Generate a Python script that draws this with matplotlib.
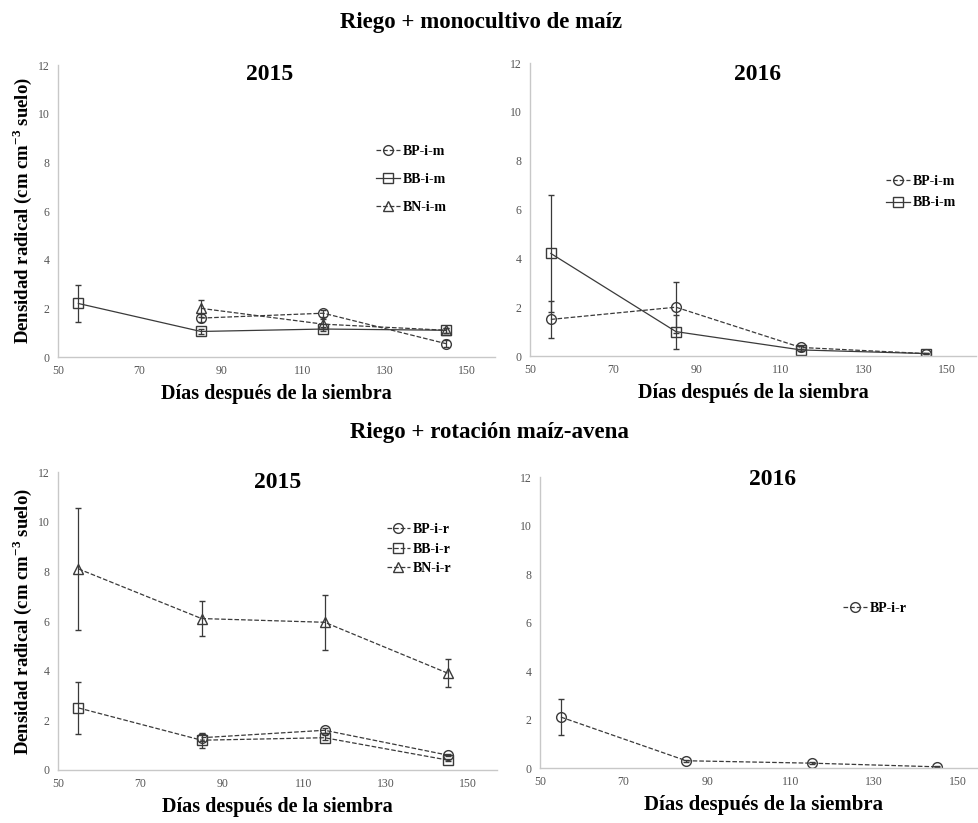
import numpy as np
import matplotlib
matplotlib.use("Agg")
import matplotlib.pyplot as plt

plt.rcParams['font.family'] = ['Liberation Serif', 'DejaVu Serif']
plt.rcParams['mathtext.fontset'] = 'custom'
plt.rcParams['mathtext.rm'] = 'Liberation Serif'
plt.rcParams['mathtext.bf'] = 'Liberation Serif:bold'

# Dias despues de la siembra
dias = [55, 85, 115, 145]

# Riego + monocultivo 2015
bp_m15 = [np.nan, 1.6, 1.8, 0.55]
bp_m15_err = [0, 0.15, 0.15, 0.15]
bb_m15 = [2.2, 1.05, 1.15, 1.1]
bb_m15_err = [0.75, 0.1, 0.1, 0.1]
bn_m15 = [np.nan, 2.0, 1.35, 1.1]
bn_m15_err = [0, 0.35, 0.2, 0.1]

# Riego + monocultivo 2016
bp_m16 = [1.5, 2.0, 0.35, 0.1]
bp_m16_err = [0.75, 1.05, 0.05, 0.03]
bb_m16 = [4.2, 1.0, 0.25, 0.1]
bb_m16_err = [2.4, 0.7, 0.05, 0.03]

# Riego + rotacion 2015
bp_r15 = [np.nan, 1.3, 1.6, 0.6]
bp_r15_err = [0, 0.15, 0.1, 0.05]
bb_r15 = [2.5, 1.2, 1.3, 0.4]
bb_r15_err = [1.03, 0.3, 0.1, 0.05]
bn_r15 = [8.1, 6.1, 5.95, 3.9]
bn_r15_err = [2.45, 0.72, 1.1, 0.57]

# Riego + rotacion 2016
bp_r16 = [2.1, 0.3, 0.2, 0.05]
bp_r16_err = [0.75, 0.05, 0.05, 0.02]

LC = '#3a3a3a'
ylab = 'Densidad radical (cm cm$^{\\mathregular{-3}}$ suelo)'
xlab = 'Días después de la siembra'

fig = plt.figure(figsize=(9.79, 8.23), dpi=100)

def setup(ax, title, tx, ty, xl_size=14.5):
    ax.set_xlim(50, 157)
    ax.set_ylim(0, 12)
    ax.set_xticks([50, 70, 90, 110, 130, 150])
    ax.set_yticks([0, 2, 4, 6, 8, 10, 12])
    for s in ['top', 'right']:
        ax.spines[s].set_visible(False)
    for s in ['left', 'bottom']:
        ax.spines[s].set_color('#c8c8c8')
        ax.spines[s].set_linewidth(1.0)
    ax.tick_params(length=0, labelsize=8.5, labelcolor='#555555', pad=6)
    ax.text(tx, ty, title, transform=ax.transAxes, ha='center', va='center',
            fontsize=17, fontweight='bold')
    ax.set_xlabel(xlab, fontsize=xl_size, fontweight='bold', labelpad=5)

def serie(ax, y, err, marker, ls):
    c = ax.errorbar(dias, y, yerr=err, color=LC, lw=0.9, ls=ls, marker=marker,
                    ms=7, mfc='none', mec=LC, mew=1.0, ecolor=LC, elinewidth=0.9,
                    capsize=2.5, capthick=0.9)
    return c.lines[0]

def leyenda(ax, handles, labels, x, y, sp):
    ax.legend(handles, labels, loc='upper left', bbox_to_anchor=(x, y), frameon=False,
              handlelength=1.7, handletextpad=0.2, labelspacing=sp,
              prop={'family': 'Liberation Serif', 'weight': 'bold', 'size': 10})

ax1 = fig.add_axes([0.0592, 0.5662, 0.4464, 0.3548])
h1 = [serie(ax1, bp_m15, bp_m15_err, 'o', '--'),
      serie(ax1, bb_m15, bb_m15_err, 's', '-'),
      serie(ax1, bn_m15, bn_m15_err, '^', '--')]
setup(ax1, '2015', 0.485, 0.966)
ax1.set_ylabel(ylab, fontsize=13.5, fontweight='bold', labelpad=3)
leyenda(ax1, h1, ['BP-i-m', 'BB-i-m', 'BN-i-m'], 0.7, 0.77, 1.1)

ax2 = fig.add_axes([0.5414, 0.5674, 0.4556, 0.356])
h2 = [serie(ax2, bp_m16, bp_m16_err, 'o', '--'),
      serie(ax2, bb_m16, bb_m16_err, 's', '-')]
setup(ax2, '2016', 0.51, 0.96)
leyenda(ax2, h2, ['BP-i-m', 'BB-i-m'], 0.77, 0.66, 0.6)

ax3 = fig.add_axes([0.0592, 0.0644, 0.4484, 0.362])
h3 = [serie(ax3, bp_r15, bp_r15_err, 'o', '--'),
      serie(ax3, bb_r15, bb_r15_err, 's', '--'),
      serie(ax3, bn_r15, bn_r15_err, '^', '--')]
setup(ax3, '2015', 0.5, 0.966)
ax3.set_ylabel(ylab, fontsize=13.5, fontweight='bold', labelpad=3)
leyenda(ax3, h3, ['BP-i-r', 'BB-i-r', 'BN-i-r'], 0.72, 0.87, 0.45)

ax4 = fig.add_axes([0.5516, 0.0668, 0.4566, 0.3536])
h4 = [serie(ax4, bp_r16, bp_r16_err, 'o', '--')]
setup(ax4, '2016', 0.52, 0.99, xl_size=15)
leyenda(ax4, h4, ['BP-i-r'], 0.65, 0.615, 0.5)

fig.text(0.491, 0.973, 'Riego + monocultivo de maíz', ha='center', va='center',
         fontsize=16.5, fontweight='bold')
fig.text(0.5, 0.474, 'Riego + rotación maíz-avena', ha='center', va='center',
         fontsize=16.5, fontweight='bold')

fig.savefig('out.png', dpi=100)
